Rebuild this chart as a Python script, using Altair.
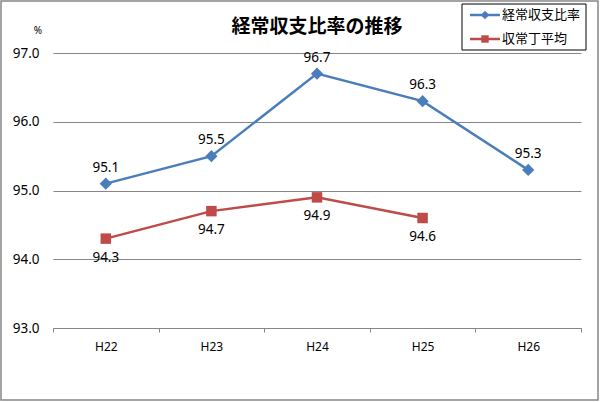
import altair as alt
import pandas as pd

years = ["H22", "H23", "H24", "H25", "H26"]
series_names = ["経常収支比率", "収常丁平均"]
ratio_values = [95.1, 95.5, 96.7, 96.3, 95.3]
avg_values = [94.3, 94.7, 94.9, 94.6, None]
y_ticks = [93.0, 94.0, 95.0, 96.0, 97.0]
title_text = "経常収支比率の推移"
unit_text = "%"

colors = ["#4A7EBB", "#BE4B48"]
shapes = ["diamond", "square"]
sizes = [150, 110]

rows = []
for i, y in enumerate(years):
    rows.append({"year": y, "series": series_names[0], "value": ratio_values[i]})
    if avg_values[i] is not None:
        rows.append({"year": y, "series": series_names[1], "value": avg_values[i]})
df = pd.DataFrame(rows)

W, H = 528, 275
PL, PT = 53, 53
FONT = "Noto Sans"
CJK = "Noto Sans CJK JP"

xscale = alt.Scale(type="band", paddingInner=0, paddingOuter=0)
xenc = alt.X("year:N", sort=years, title=None, scale=xscale,
             axis=alt.Axis(labelAngle=0, labelFont=FONT, labelFontSize=12, labelColor="#000",
                           labelPadding=9, tickBand="extent", tickSize=4, tickColor="#868686",
                           domainColor="#868686", domainWidth=1, grid=False))
yscale = alt.Scale(domain=[93, 97], nice=False, zero=False)
yenc = alt.Y("value:Q", title=None, scale=yscale,
             axis=alt.Axis(values=y_ticks, format=".1f", labelFont=FONT, labelFontSize=13.5,
                           labelColor="#000", labelPadding=14, domain=False, ticks=False,
                           grid=True, gridColor="#868686", gridWidth=1))

base = alt.Chart(df)
color = alt.Color("series:N", scale=alt.Scale(domain=series_names, range=colors), legend=None)
shape = alt.Shape("series:N", scale=alt.Scale(domain=series_names, range=shapes), legend=None)
size = alt.Size("series:N", scale=alt.Scale(domain=series_names, range=sizes), legend=None)

lines = base.mark_line(strokeWidth=2.5).encode(x=xenc, y=yenc, color=color)
pts = base.mark_point(filled=True, opacity=1).encode(
    x=xenc, y=yenc, color=color, shape=shape, size=size)

lab_top = base.transform_filter(alt.datum.series == series_names[0]).mark_text(
    dy=-16, font=FONT, fontSize=13.5, color="#000").encode(
    x=xenc, y=yenc, text=alt.Text("value:Q", format=".1f"))
lab_bot = base.transform_filter(alt.datum.series == series_names[1]).mark_text(
    dy=19, font=FONT, fontSize=13.5, color="#000").encode(
    x=xenc, y=yenc, text=alt.Text("value:Q", format=".1f"))

one = pd.DataFrame({"a": [0]})

# outer border of the whole chart
border = alt.Chart(one).mark_rect(
    fill=None, stroke="#868686", strokeWidth=1.5).encode(
    x=alt.value(-PL + 1), x2=alt.value(600 - PL - 2),
    y=alt.value(-PT + 1), y2=alt.value(402 - PT - 2))

title = alt.Chart(pd.DataFrame({"t": [title_text]})).mark_text(
    font=CJK, fontSize=19, fontWeight="bold", align="center", baseline="middle",
    color="#000").encode(x=alt.value(317 - PL), y=alt.value(27 - PT), text="t:N")

unit = alt.Chart(pd.DataFrame({"t": [unit_text]})).mark_text(
    font=FONT, fontSize=10, align="center", baseline="middle", color="#000").encode(
    x=alt.value(38 - PL), y=alt.value(31 - PT), text="t:N")

# legend
leg_box = alt.Chart(one).mark_rect(
    fill="white", stroke="#000", strokeWidth=1).encode(
    x=alt.value(462 - PL), x2=alt.value(586 - PL), y=alt.value(4 - PT), y2=alt.value(50 - PT))
leg_layers = [leg_box]
row_y = [15 - PT, 39 - PT]
for i, name in enumerate(series_names):
    d = pd.DataFrame({"series": [name]})
    leg_layers.append(alt.Chart(d).mark_rule(strokeWidth=2.5, color=colors[i]).encode(
        x=alt.value(470 - PL), x2=alt.value(500 - PL), y=alt.value(row_y[i])))
    leg_layers.append(alt.Chart(d).mark_point(filled=True, opacity=1, size=sizes[i] * 0.5,
                                              color=colors[i], shape=shapes[i]).encode(
        x=alt.value(485 - PL), y=alt.value(row_y[i])))
    leg_layers.append(alt.Chart(d).mark_text(font=CJK, fontSize=13, align="left",
                                             baseline="middle", color="#000").encode(
        x=alt.value(502 - PL), y=alt.value(row_y[i]), text="series:N"))

chart = alt.layer(lines, pts, lab_top, lab_bot, border, title, unit, *leg_layers).properties(
    width=W, height=H,
    autosize=alt.AutoSizeParams(type="none"),
    padding={"left": PL, "top": PT, "right": 600 - PL - W, "bottom": 402 - PT - H},
    background="white",
).configure_view(stroke=None)

chart.save("out.html", embed_options={"renderer": "svg", "actions": False})
